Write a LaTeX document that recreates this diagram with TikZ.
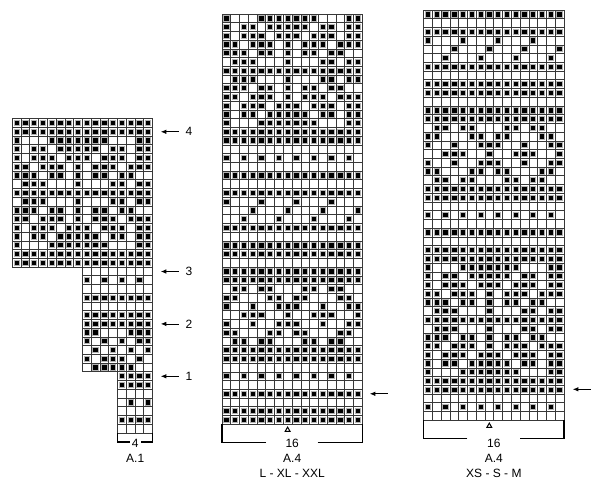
\documentclass[tikz,border=0pt]{standalone}
\usepackage{fontspec}
\setmainfont{Liberation Sans}
\usetikzlibrary{arrows.meta}
\newcount\kkcol
\def\cw{8.77}
\def\rowh{8.73}
\def\sqs{5.3}
% row bit strings
\def\kkF{1111111111111111}
\def\kkE{0000000000000000}
\def\kkAlt{1010101010101010}
\def\kkDa{1000100010001000}
\def\kkDb{0001000100010001}
\def\kkDc{0010001000100010}
\def\kkSa{1000111111100011}
\def\kkSb{1011011111011011}
\def\kkSc{1011101110111011}
\def\kkSd{1101110101110111}
\def\kkSe{1110110101101100}
\def\kkSf{0111000100011011}
\def\kkMa{0110110001101100}
\def\kkMb{1100011011000110}
\def\kkMc{1001001110010011}
\def\kkMd{0011100100111001}
\def\dorow#1#2#3{\def\rx{#1}\def\ry{#2}\kkcol=0 \edef\rowbits{#3}\expandafter\dorowi\rowbits\relax}
\def\dorowi#1{\ifx\relax#1\else\if1#1\fill[sq] ({\rx+\cw*\the\kkcol+0.5*\cw-0.5*\sqs},{\ry-0.5*\sqs}) rectangle ++(\sqs,\sqs);\fi\advance\kkcol by 1 \expandafter\dorowi\fi}
\newcommand\kkchart[3]{\foreach \rowspec [count=\rowidx] in {#3} {\pgfmathsetmacro\yc{#2+\rowh*(\rowidx-0.5)}\dorow{#1}{\yc}{\rowspec}}}
\newcommand\gridsec[4]{%
  \foreach \gi in {0,...,#3} {\draw[gl] ({#1+\cw*\gi},{#2}) -- ++(0,{\rowh*#4});}
  \foreach \gj in {0,...,#4} {\draw[gl] ({#1},{#2+\rowh*\gj}) -- ++({\cw*#3},0);}}
\begin{document}
\begin{tikzpicture}[x=1pt,y=-1pt,
  sq/.style={fill=black,draw=gray!60,line width=1pt},
  gl/.style={draw=black!78,line width=0.8pt},
  br/.style={draw=black,line width=1.2pt},
  arr/.style={-{Latex[length=5.5pt,width=4.5pt]},line width=0.8pt},
  lab/.style={inner sep=0pt,font=\fontsize{12}{14}\selectfont}]
\fill[white] (0,0) rectangle (600,488);
\useasboundingbox (0,0) rectangle (600,488);
% ---------- A.1 ----------
\gridsec{12.3}{118.7}{16}{17}
\gridsec{82.46}{267.11}{8}{12}
\gridsec{117.54}{371.87}{4}{7}
\kkchart{12.3}{118.7}{\kkF,\kkF,\kkSa,\kkSb,\kkSc,\kkSd,\kkSe,\kkSf,\kkF,\kkSf,\kkSe,\kkSd,\kkSc,\kkSb,\kkSa,\kkF,\kkF,
 xxxxxxxx00000000,xxxxxxxx10101010,xxxxxxxx00000000,xxxxxxxx11111111,xxxxxxxx00000000,xxxxxxxx11111111,xxxxxxxx11111111,
 xxxxxxxx11000111,xxxxxxxx10101011,xxxxxxxx01010101,xxxxxxxx10111010,xxxxxxxx01111100,
 xxxxxxxxxxxx1111,xxxxxxxxxxxx1111,xxxxxxxxxxxx0000,xxxxxxxxxxxx0101,xxxxxxxxxxxx0000,xxxxxxxxxxxx1111,xxxxxxxxxxxx0000}
% arrows A.1
\foreach \nm/\yy in {4/131.8,3/271.5,2/323.9,1/376.3}{
  \coordinate (as\nm) at (178.5,\yy);
  \coordinate (ae\nm) at (160.8,\yy);
  \node[lab] (al\nm) at (189,\yy) {\nm};
  \draw[arr] (as\nm) -- (ae\nm);
}
% bracket A.1
\draw[br] (117.54,433) -- (117.54,442) -- (129.7,442);
\draw[br] (141.3,442) -- (152.6,442) -- (152.6,433);
\node[lab] (w1) at (135.2,443.3) {4};
\node[lab] (t1) at (135.2,458.6) {A.1};
% ---------- A.4 L-XL-XXL ----------
\gridsec{222}{14}{16}{47}
\kkchart{222}{14}{\kkSa,\kkSb,\kkSc,\kkSd,\kkSe,\kkSf,\kkF,\kkSf,\kkSe,\kkSd,\kkSc,\kkSb,\kkSa,
 \kkF,\kkF,\kkE,\kkAlt,\kkE,\kkF,\kkE,\kkF,\kkDa,\kkDb,\kkDc,\kkF,\kkE,\kkF,\kkF,\kkE,\kkF,\kkF,
 \kkMa,\kkMb,\kkMc,\kkMd,\kkMc,\kkMb,\kkMa,
 \kkF,\kkF,\kkE,\kkAlt,\kkE,\kkF,\kkE,\kkF,\kkF}
\coordinate (ms) at (387.5,393.8);
\coordinate (me) at (369.8,393.8);
\draw[arr] (ms) -- (me);
\draw[line width=1pt] (285.2,431.3) -- (287.6,427.1) -- (290.0,431.3) -- cycle;
\draw[br] (266,442.3) -- (222,442.3) -- (222,424.3);
\draw[br] (317.7,442.3) -- (362.3,442.3) -- (362.3,424.3);
\node[lab] (w2) at (292.2,443.3) {16};
\node[lab] (t2) at (292.2,458.6) {A.4};
\node[lab] (s2) at (292.2,473.8) {L - XL - XXL};
% ---------- A.4 XS-S-M ----------
\gridsec{423.7}{10}{16}{47}
\kkchart{423.7}{10}{\kkF,\kkE,\kkF,\kkDa,\kkDb,\kkDc,\kkF,\kkE,\kkF,\kkF,\kkE,\kkF,\kkF,
 \kkMa,\kkMb,\kkMc,\kkMd,\kkMc,\kkMb,\kkMa,
 \kkF,\kkF,\kkE,\kkAlt,\kkE,\kkF,\kkE,\kkF,\kkF,
 \kkSa,\kkSb,\kkSc,\kkSd,\kkSe,\kkSf,\kkF,\kkSf,\kkSe,\kkSd,\kkSc,\kkSb,\kkSa,
 \kkF,\kkF,\kkE,\kkAlt,\kkE}
\coordinate (rs) at (590.5,389.3);
\coordinate (re) at (572.8,389.3);
\draw[arr] (rs) -- (re);
\draw[line width=1pt] (486.9,427.3) -- (489.3,423.1) -- (491.7,427.3) -- cycle;
\draw[br] (467.3,438.3) -- (423.7,438.3) -- (423.7,420.3);
\draw[br] (520,438.3) -- (564,438.3) -- (564,420.3);
\node[lab] (w3) at (493.9,443.3) {16};
\node[lab] (t3) at (493.9,458.6) {A.4};
\node[lab] (s3) at (493.9,473.8) {XS - S - M};
\end{tikzpicture}
\end{document}
